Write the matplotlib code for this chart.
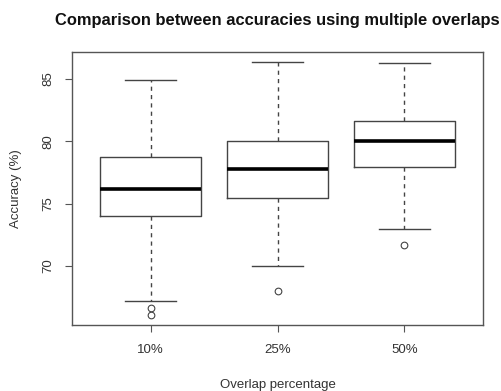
import matplotlib
matplotlib.use("Agg")
import matplotlib.pyplot as plt

plt.rcParams['font.family'] = ['Liberation Sans', 'DejaVu Sans']

categories = ["10%", "25%", "50%"]
whisker_low = [67.15, 69.95, 72.95]
q1 = [74.0, 75.45, 77.9]
median = [76.2, 77.75, 80.05]
q3 = [78.75, 80.0, 81.6]
whisker_high = [84.95, 86.4, 86.25]
outliers = [[66.6, 66.05], [68.0], [71.7]]

title = "Comparison between accuracies using multiple overlaps"
xlabel = "Overlap percentage"
ylabel = "Accuracy (%)"
yticks = [70, 75, 80, 85]

fig = plt.figure(figsize=(5.02, 3.91), dpi=100)
ax = fig.add_axes([72/502, 1-325/391, (483-72)/502, (325-52)/391])

stats = []
for i, c in enumerate(categories):
    stats.append(dict(label=c, whislo=whisker_low[i], q1=q1[i], med=median[i],
                      q3=q3[i], whishi=whisker_high[i], fliers=outliers[i]))

line_col = '#444444'
ax.bxp(stats, positions=[1, 2, 3], widths=0.8, showfliers=True,
       boxprops=dict(color=line_col, linewidth=1.0),
       medianprops=dict(color='black', linewidth=2.6),
       whiskerprops=dict(color=line_col, linewidth=1.0, linestyle=(0, (3, 3))),
       capprops=dict(color=line_col, linewidth=1.0),
       capwidths=0.4,
       flierprops=dict(marker='o', markersize=4.8, markerfacecolor='none',
                       markeredgecolor=line_col, markeredgewidth=0.8))

ax.set_xlim(0.38, 3.62)
ax.set_ylim(65.24, 87.17)
ax.set_yticks(yticks)
ax.set_yticklabels([str(t) for t in yticks], rotation=90, va='center')
ax.set_xticks([1, 2, 3])
ax.set_xticklabels(categories)

txt_col = '#333333'
ax.tick_params(axis='both', length=5, width=0.8, color='#555555', labelsize=9.5, labelcolor=txt_col)
ax.tick_params(axis='y', pad=8)
ax.tick_params(axis='x', pad=9)
for s in ax.spines.values():
    s.set_color('#555555')
    s.set_linewidth(1.0)

fig.text(277.5/502, 1-20/391, title, fontsize=11.9, fontweight='bold',
         color='#111111', ha='center', va='center')
ax.set_xlabel(xlabel, fontsize=9.5, labelpad=16, color=txt_col)
ax.set_ylabel(ylabel, fontsize=9.5, labelpad=14, color=txt_col)

fig.savefig("out.png", dpi=100)
